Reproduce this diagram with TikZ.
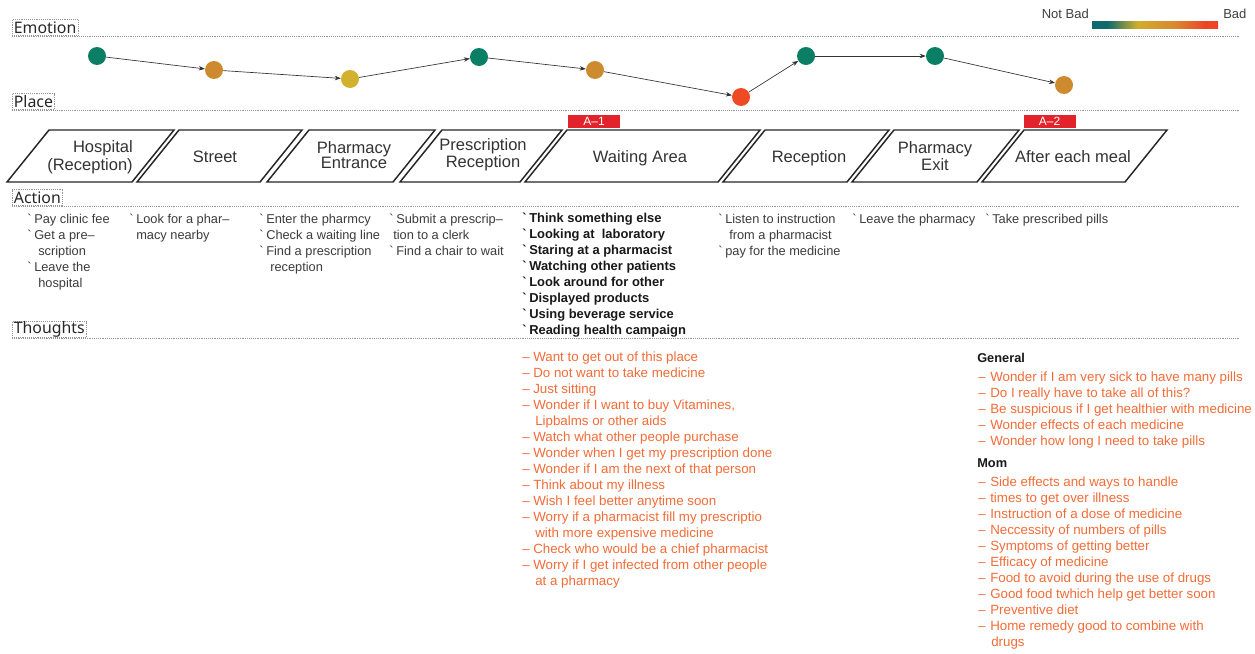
\documentclass[tikz,border=0pt]{standalone}
\usepackage{fontspec}
\setmainfont{Liberation Sans}
\newfontfamily\headfont{Noto Sans}
\usetikzlibrary{arrows.meta}
\definecolor{cteal}{RGB}{11,127,102}
\definecolor{corange}{RGB}{205,138,47}
\definecolor{cyellow}{RGB}{210,177,47}
\definecolor{cred}{RGB}{238,75,36}
\definecolor{gteal}{RGB}{14,106,108}
\definecolor{gyellow}{RGB}{208,174,44}
\definecolor{gorange}{RGB}{217,136,48}
\definecolor{gred}{RGB}{238,69,37}
\definecolor{tagred}{RGB}{227,35,43}
\definecolor{actgray}{RGB}{60,60,60}
\definecolor{thorange}{RGB}{243,108,55}
\definecolor{sepgray}{RGB}{150,150,150}
\pgfdeclarehorizontalshading{emograd}{100bp}{color(0bp)=(gteal); color(25bp)=(gteal); color(31bp)=(gteal); color(43bp)=(gyellow); color(58bp)=(gorange); color(70bp)=(gred); color(75bp)=(gred); color(100bp)=(gred)}
\newcommand\tkl[1]{\strut\makebox[5.25pt][l]{\textasciigrave}#1}
\newcommand\tkc[2]{\strut\hspace*{#1}#2}
\newcommand\dsl[1]{\strut\makebox[8.25pt][l]{–}#1}
\newcommand\dsr[1]{\strut\makebox[9pt][l]{–}#1}
\newcommand\dsc[2]{\strut\hspace*{#1}#2}
\newcommand\pbox[2]{\draw[pbx] (#1,182) -- ++(#2,0) -- ++(42,-52) -- ++(-#2,0) -- cycle;}
\begin{document}
\begin{tikzpicture}[x=0.75pt,y=-0.75pt,
  sep/.style={draw=sepgray, line width=0.5pt, dash pattern=on 0.7pt off 0.7pt},
  lab/.style={anchor=south west, draw=sepgray, line width=0.4pt, dash pattern=on 0.7pt off 0.7pt, inner xsep=1.2pt, inner ysep=0pt, minimum height=12pt, font=\headfont\fontsize{11.9}{12}\selectfont, text=black!85},
  legtext/.style={inner sep=0pt, font=\fontsize{9.75}{10}\selectfont, text=black!75},
  pbx/.style={draw=black!85, line width=1.1pt, line join=miter},
  ptxt/.style={inner sep=0pt, font=\fontsize{12.4}{11.25}\selectfont, text=black!80, align=center},
  tagbox/.style={fill=tagred, text=white, minimum width=39pt, minimum height=9.75pt, inner sep=0pt, font=\fontsize{9}{9}\selectfont},
  emo/.style={circle, minimum size=13.5pt, inner sep=0pt, draw=none},
  arr/.style={draw=black!80, line width=0.5pt, -{Stealth[length=4.5pt,width=3.4pt]}},
  act/.style={anchor=north west, inner sep=0pt, align=left, text=actgray, font=\fontsize{9.6}{12}\selectfont},
  actb/.style={anchor=north west, inner sep=0pt, align=left, text=black!90, font=\fontsize{9.7}{12}\selectfont\bfseries},
  tht/.style={anchor=north west, inner sep=0pt, align=left, text=thorange, font=\fontsize{10}{12}\selectfont},
  thh/.style={anchor=west, inner sep=0pt, text=black!90, font=\fontsize{9.6}{12}\selectfont\bfseries}
]
\fill[white] (0,0) rectangle (1255,653);
\useasboundingbox (0,0) rectangle (1255,653);

% separators
\foreach \yy/\nm in {36/emo,110/pla,206/act,338/tho}{
  \coordinate (s\nm a) at (12,\yy);
  \coordinate (s\nm b) at (1240,\yy);
  \draw[sep] (s\nm a) -- (s\nm b);
}
\node[lab] (lemo) at (12,36) {Emotion};
\node[lab] (lpla) at (12,110) {Place};
\node[lab] (lact) at (12,206) {Action};
\node[lab] (ltho) at (12,338) {Thoughts};

% legend
\node[legtext, anchor=east] (lnb) at (1089,14) {Not Bad};
\shade[shading=emograd] (1092,21) rectangle (1218,28);
\node[legtext, anchor=west] (lbad) at (1223,14) {Bad};

% emotion curve
\node[emo, fill=cteal]   (e1) at (97,56) {};
\node[emo, fill=corange] (e2) at (214,70) {};
\node[emo, fill=cyellow] (e3) at (350,79) {};
\node[emo, fill=cteal]   (e4) at (479,57) {};
\node[emo, fill=corange] (e5) at (595,70) {};
\node[emo, fill=cred]    (e6) at (741,97) {};
\node[emo, fill=cteal]   (e7) at (806,56) {};
\node[emo, fill=cteal]   (e8) at (935,56) {};
\node[emo, fill=corange] (e9) at (1064,85) {};
\draw[arr] (e1) -- (e2);
\draw[arr] (e2) -- (e3);
\draw[arr] (e3) -- (e4);
\draw[arr] (e4) -- (e5);
\draw[arr] (e5) -- (e6);
\draw[arr] (e6) -- (e7);
\draw[arr] (e7) -- (e8);
\draw[arr] (e8) -- (e9);

% place boxes
\pbox{7}{125}
\pbox{137}{123}
\pbox{267}{126}
\pbox{400}{120}
\pbox{525}{193}
\pbox{723}{124}
\pbox{852}{125}
\pbox{982}{143}
\node[ptxt, align=right, anchor=east, font=\fontsize{12.4}{13.5}\selectfont] (p1) at (133,157.5) {Hospital\\(Reception)};
\node[ptxt, anchor=base] (p2) at (215,162) {Street};
\node[ptxt] (p3) at (354,155.5) {Pharmacy\\Entrance};
\node[ptxt] (p4) at (483,154.5) {Prescription\\Reception};
\node[ptxt, anchor=base] (p5) at (640,162) {Waiting Area};
\node[ptxt, anchor=base] (p6) at (809,162) {Reception};
\node[ptxt] (p7) at (935,156) {Pharmacy\\Exit};
\node[ptxt, anchor=base] (p8) at (1073,162) {After each meal};

% tags
\node[tagbox] (t1) at (594,121.5) {A–1};
\node[tagbox] (t2) at (1049.5,121.5) {A–2};

% actions
\node[act] (a1) at (27,212) {\tkl{Pay clinic fee}\\\tkl{Get a pre–}\\\tkc{8.25pt}{scription}\\\tkl{Leave the}\\\tkc{8.25pt}{hospital}};
\node[act] (a2) at (129,212) {\tkl{Look for a phar–}\\\tkc{5.25pt}{macy nearby}};
\node[act] (a3) at (259,212) {\tkl{Enter the pharmcy}\\\tkl{Check a waiting line}\\\tkl{Find a prescription}\\\tkc{8.25pt}{reception}};
\node[act] (a4) at (389,212) {\tkl{Submit a prescrip–}\\\tkc{3pt}{tion to a clerk}\\\tkl{Find a chair to wait}};
\node[actb] (a5) at (522,211) {\tkl{Think something else}\\\tkl{Looking at\ \ laboratory}\\\tkl{Staring at a pharmacist}\\\tkl{Watching other patients}\\\tkl{Look around for other}\\\tkl{Displayed products}\\\tkl{Using beverage service}\\\tkl{Reading health campaign}};
\node[act] (a6) at (718,212) {\tkl{Listen to instruction}\\\tkc{8.25pt}{from a pharmacist}\\\tkl{pay for the medicine}};
\node[act] (a7) at (852,212) {\tkl{Leave the pharmacy}};
\node[act] (a8) at (985,212) {\tkl{Take prescribed pills}};

% thoughts
\node[tht] (th1) at (522,350.5) {\dsl{Want to get out of this place}\\\dsl{Do not want to take medicine}\\\dsl{Just sitting}\\\dsl{Wonder if I want to buy Vitamines,}\\\dsc{9.75pt}{Lipbalms or other aids}\\\dsl{Watch what other people purchase}\\\dsl{Wonder when I get my prescription done}\\\dsl{Wonder if I am the next of that person}\\\dsl{Think about my illness}\\\dsl{Wish I feel better anytime soon}\\\dsl{Worry if a pharmacist fill my prescriptio}\\\dsc{9.75pt}{with more expensive medicine}\\\dsl{Check who would be a chief pharmacist}\\\dsl{Worry if I get infected from other people}\\\dsc{9.75pt}{at a pharmacy}};
\node[thh] (gen) at (977,358) {General};
\node[tht] (th2) at (978,370.5) {\dsr{Wonder if I am very sick to have many pills}\\\dsr{Do I really have to take all of this?}\\\dsr{Be suspicious if I get healthier with medicine}\\\dsr{Wonder effects of each medicine}\\\dsr{Wonder how long I need to take pills}};
\node[thh] (mom) at (977,463) {Mom};
\node[tht] (th3) at (978,475.5) {\dsr{Side effects and ways to handle}\\\dsr{times to get over illness}\\\dsr{Instruction of a dose of medicine}\\\dsr{Neccessity of numbers of pills}\\\dsr{Symptoms of getting better}\\\dsr{Efficacy of medicine}\\\dsr{Food to avoid during the use of drugs}\\\dsr{Good food twhich help get better soon}\\\dsr{Preventive diet}\\\dsr{Home remedy good to combine with}\\\dsc{9.75pt}{drugs}};
\end{tikzpicture}
\end{document}
